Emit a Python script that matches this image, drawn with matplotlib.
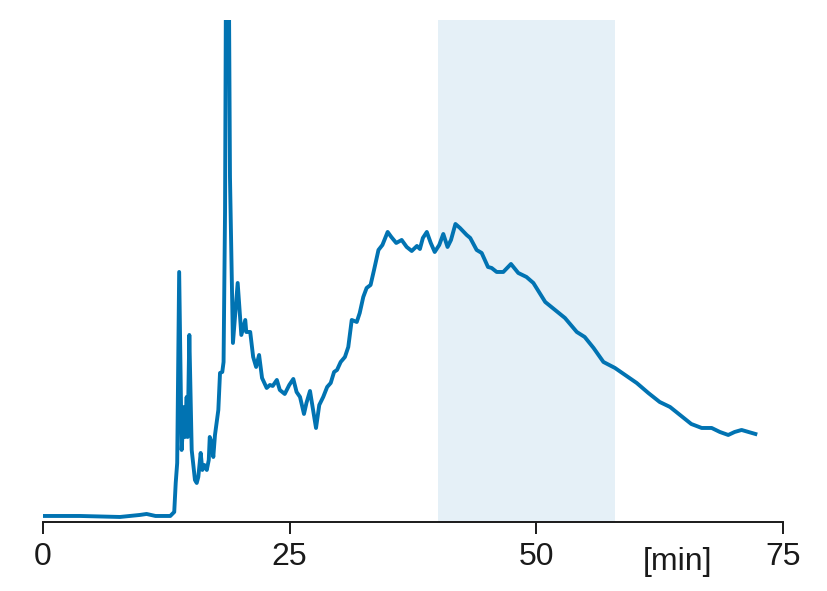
import matplotlib
matplotlib.use('Agg')
import matplotlib.pyplot as plt

# retention time (min) and detector signal (arbitrary units)
tiempo = [0, 3.75, 7.8, 9.8, 10.5, 11.4, 12.9, 13.3, 13.45, 13.6, 13.8, 14.05, 14.3, 14.4,
          14.56, 14.66, 14.83, 15.07, 15.4, 15.58, 15.74, 15.98, 16.15, 16.35, 16.6, 16.8,
          16.9, 17.1, 17.26, 17.43, 17.77, 17.94, 18.17, 18.3, 18.45, 18.55, 18.75, 18.85,
          18.95, 19.25, 19.73, 20.1, 20.5, 20.6, 21.0, 21.3, 21.6, 21.9, 22.2, 22.67, 23.0,
          23.28, 23.7, 24.0, 24.5, 24.96, 25.37, 25.7, 26.05, 26.45, 26.7, 27.06, 27.67,
          28.0, 28.4, 28.8, 29.16, 29.5, 29.8, 30.17, 30.6, 30.94, 31.29, 31.8, 32.1, 32.46,
          32.8, 33.2, 33.55, 34.0, 34.4, 34.93, 35.3, 35.8, 36.35, 36.86, 37.37, 37.9, 38.2,
          38.5, 38.9, 39.3, 39.7, 40.16, 40.57, 41.0, 41.35, 41.8, 42.26, 42.94, 43.3,
          43.95, 44.46, 45.1, 45.47, 45.98, 46.65, 47.43, 48.17, 49.0, 49.7, 50.9, 51.9,
          52.9, 54.1, 54.9, 55.8, 56.8, 57.97, 60.17, 61.35, 62.5, 63.55, 64.56, 65.7,
          66.76, 67.77, 68.6, 69.45, 70.1, 70.8, 72.2]
senal = [6, 6, 5, 7, 8, 6, 6, 10, 39, 59, 250, 72, 115, 85,
         125, 85, 187, 72, 42, 39, 45, 69, 52, 57, 52, 62,
         85, 79, 65, 87, 112, 149, 150, 160, 310, 560, 620, 520,
         345, 179, 239, 187, 202, 190, 190, 165, 155, 167, 144, 134, 137,
         136, 142, 132, 128, 137, 143, 130, 125, 108, 119, 131, 94,
         117, 125, 135, 139, 150, 152, 160, 165, 175, 202, 200, 209, 225,
         234, 237, 252, 272, 277, 290, 285, 279, 282, 275, 271, 276, 273,
         284, 290, 279, 270, 277, 288, 275, 282, 298, 294, 287, 284,
         272, 269, 255, 254, 250, 250, 258, 249, 245, 239, 220, 212,
         204, 190, 185, 174, 160, 154, 139, 129, 120, 115, 107, 98,
         94, 94, 90, 87, 90, 92, 88]

zona = [40, 58]
ticks = [0, 25, 50, 75]
azul = '#0173b2'

fig = plt.figure(figsize=(8.27, 5.91), dpi=100)
ax = fig.add_axes([0.052, 0.1168, 0.8948, 0.8494])

ax.axvspan(zona[0], zona[1], color=azul, alpha=0.1, lw=0)
ax.plot(tiempo, senal, color=azul, lw=2.8, solid_joinstyle='round')

ax.set_xlim(0, 75)
ax.set_ylim(0, 502)
ax.set_xticks(ticks)
ax.set_yticks([])
for s in ['left', 'right', 'top']:
    ax.spines[s].set_visible(False)
ax.spines['bottom'].set_linewidth(1.4)
ax.spines['bottom'].set_color('#1a1a1a')
ax.tick_params(axis='x', direction='out', length=8.6, width=1.4, color='#1a1a1a',
               pad=6, labelsize=23, labelcolor='#1a1a1a')
for lab in ax.get_xticklabels():
    lab.set_fontfamily('Liberation Sans')

ax.set_xlabel('[min]', fontsize=23, color='#1a1a1a', family='Liberation Sans', va='center')
ax.xaxis.set_label_coords(64.3 / 75, -0.08)

fig.savefig('out.png', dpi=100)
